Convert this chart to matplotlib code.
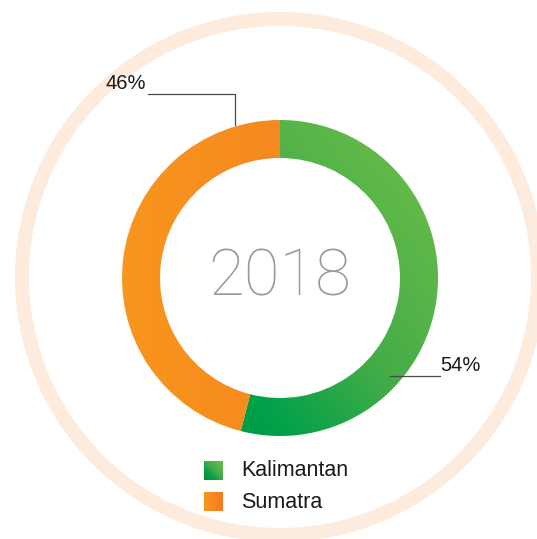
import numpy as np
import matplotlib
matplotlib.use("Agg")
import matplotlib.pyplot as plt
from matplotlib.patches import Wedge
from matplotlib.colors import LinearSegmentedColormap

# ---- data ----
categories = ["Kalimantan", "Sumatra"]
values = [54, 46]
pct_labels = ["54%", "46%"]
center_label = "2018"

W, H = 537, 539
fig = plt.figure(figsize=(W / 100, H / 100), dpi=100)
ax = fig.add_axes([0, 0, 1, 1])
ax.set_xlim(0, W)
ax.set_ylim(0, H)
ax.set_aspect("equal")
ax.axis("off")

def Y(y):  # image-y to data-y
    return H - y

cx, cy = 280, Y(278)
R, ring_w = 158, 38

# outer decorative ring
ax.add_patch(Wedge((cx, Y(277)), 265, 0, 360, width=14, facecolor="#fdecdd", edgecolor="none", zorder=1))

wedges, _ = ax.pie(values, center=(cx, cy), radius=R, startangle=90, counterclock=False,
                   wedgeprops=dict(width=ring_w, edgecolor="none"), frame=True)
ax.set_xlim(0, W)
ax.set_ylim(0, H)
ax.axis("off")

green_cmap = LinearSegmentedColormap.from_list("g", [(0, "#6fbf4a"), (0.45, "#45ad47"), (0.72, "#00a04a"), (1, "#078a3d")])
orange_cmap = LinearSegmentedColormap.from_list("o", ["#f8961d", "#f37a21"])

n = 300
xs = np.linspace(0, 1, n)
XX, YY = np.meshgrid(xs, xs)
ext = (cx - R, cx + R, cy - R, cy + R)
g_grad = 1 - (0.55 * XX + 0.45 * YY)
o_grad = XX
for w, grad, cmap in [(wedges[0], g_grad, green_cmap), (wedges[1], o_grad, orange_cmap)]:
    w.set_facecolor("none")
    im = ax.imshow(grad, extent=ext, origin="lower", cmap=cmap, vmin=0, vmax=1,
                   interpolation="bilinear", zorder=2, aspect="auto")
    im.set_clip_path(w)

# center text
ax.text(cx, Y(277), center_label, ha="center", va="center", fontsize=47,
        color="#9a9a9a", family=["Roboto", "DejaVu Sans"], fontweight="light", zorder=5)

lab_font = dict(fontsize=14.5, color="#1a1a1a", family=["Liberation Sans", "DejaVu Sans"], zorder=5)
leg_font = dict(fontsize=15.5, color="#1a1a1a", family=["Liberation Sans", "DejaVu Sans"], zorder=5)
lc = "#4a4a4a"
# 54% label (Kalimantan)
ax.plot([390, 440], [Y(376), Y(376)], color=lc, lw=0.9, zorder=4)
ax.text(440, Y(371), pct_labels[0], ha="left", va="baseline", **lab_font)
# 46% label (Sumatra)
ax.plot([148, 235, 235], [Y(94), Y(94), Y(125)], color=lc, lw=0.9, zorder=4)
ax.text(106, Y(89), pct_labels[1], ha="left", va="baseline", **lab_font)

# legend with gradient squares
sq = 19
leg_y = [471, 502]
sq_grads = [1 - (0.5 * XX + 0.5 * YY), XX]
for cat, ly, grad, cmap in zip(categories, leg_y, sq_grads, [green_cmap, orange_cmap]):
    ax.imshow(grad, extent=(204, 204 + sq, Y(ly + sq / 2), Y(ly - sq / 2)), origin="lower",
              cmap=cmap, vmin=0, vmax=1, interpolation="bilinear", zorder=3, aspect="auto")
    ax.text(241, Y(ly), cat, ha="left", va="center", **leg_font)

ax.set_xlim(0, W)
ax.set_ylim(0, H)
fig.savefig("out.png", dpi=100, facecolor="white")
